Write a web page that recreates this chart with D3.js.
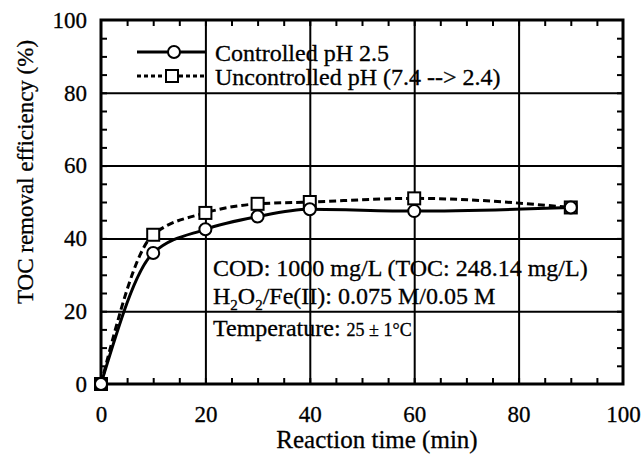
<!DOCTYPE html>
<html>
<head>
<meta charset="utf-8">
<script src="https://cdn.jsdelivr.net/npm/d3@7"></script>
<style>
    body { margin: 0; background: #fff; }
    svg text { font-family: "Liberation Serif", "DejaVu Serif", serif; fill: #000; stroke: #000; stroke-width: 0.3px; }
</style>
</head>
<body>
<svg width="642" height="459"></svg>
<script>
// reaction time (min) and TOC removal (%)
const times = [0, 10, 20, 30, 40, 60, 90];
const controlled = [0, 36, 42.5, 46, 48, 47.5, 48.5];
const uncontrolled = [0, 41, 47, 49.5, 50, 51, 48.5];
const xTicks = [0, 20, 40, 60, 80, 100];
const yTicks = [0, 20, 40, 60, 80, 100];
const seriesNames = ["Controlled pH 2.5", "Uncontrolled pH (7.4 --> 2.4)"];

const svg = d3.select('svg');
const margin = {top: 20, right: 19, bottom: 75, left: 101};
const width = 642 - margin.left - margin.right;
const height = 459 - margin.top - margin.bottom;

const chart = svg.append('g')
    .attr('transform', `translate(${margin.left}, ${margin.top})`);

const xScale = d3.scaleLinear().domain([0, 100]).range([0, width]);
const yScale = d3.scaleLinear().domain([0, 100]).range([height, 0]);

// grid
chart.append('g')
    .call(d3.axisBottom(xScale).tickValues(xTicks.slice(1, -1)).tickSize(height).tickFormat(''))
    .call(g => g.select('.domain').remove())
    .selectAll('line').attr('stroke', '#000').attr('stroke-width', 2);

chart.append('g')
    .call(d3.axisLeft(yScale).tickValues(yTicks.slice(1, -1)).tickSize(-width).tickFormat(''))
    .call(g => g.select('.domain').remove())
    .selectAll('line').attr('stroke', '#000').attr('stroke-width', 2);

// minor ticks, pointing inward on all four sides
const minor = d3.range(5, 100, 5);
chart.append('g')
    .attr('transform', `translate(0, ${height})`)
    .call(d3.axisTop(xScale).tickValues(minor).tickSize(6).tickFormat(''))
    .call(g => g.select('.domain').remove())
    .selectAll('line').attr('stroke-width', 2);
chart.append('g')
    .call(d3.axisBottom(xScale).tickValues(minor).tickSize(6).tickFormat(''))
    .call(g => g.select('.domain').remove())
    .selectAll('line').attr('stroke-width', 2);
chart.append('g')
    .call(d3.axisRight(yScale).tickValues(minor).tickSize(6).tickFormat(''))
    .call(g => g.select('.domain').remove())
    .selectAll('line').attr('stroke-width', 2);
chart.append('g')
    .attr('transform', `translate(${width}, 0)`)
    .call(d3.axisLeft(yScale).tickValues(minor).tickSize(6).tickFormat(''))
    .call(g => g.select('.domain').remove())
    .selectAll('line').attr('stroke-width', 2);

// tick labels
chart.append('g')
    .attr('transform', `translate(0, ${height})`)
    .call(d3.axisBottom(xScale).tickValues(xTicks).tickSize(0).tickPadding(22).tickFormat(d3.format('d')))
    .call(g => g.select('.domain').remove())
    .selectAll('text').style('font-size', '23px');

chart.append('g')
    .call(d3.axisLeft(yScale).tickValues(yTicks).tickSize(0).tickPadding(14).tickFormat(d3.format('d')))
    .call(g => g.select('.domain').remove())
    .selectAll('text').style('font-size', '23px');

// frame
chart.append('rect')
    .attr('width', width)
    .attr('height', height)
    .attr('fill', 'none')
    .attr('stroke', '#000')
    .attr('stroke-width', 3);

// curves
const line = d3.line()
    .x((d, i) => xScale(times[i]))
    .y(d => yScale(d))
    .curve(d3.curveMonotoneX);

chart.append('path')
    .datum(uncontrolled)
    .attr('d', line)
    .attr('fill', 'none')
    .attr('stroke', '#000')
    .attr('stroke-width', 3)
    .attr('stroke-dasharray', '7,4');

chart.append('path')
    .datum(controlled)
    .attr('d', line)
    .attr('fill', 'none')
    .attr('stroke', '#000')
    .attr('stroke-width', 3);

// markers
chart.selectAll('.sq')
    .data(uncontrolled)
    .enter()
    .append('rect')
    .attr('class', 'sq')
    .attr('x', (d, i) => xScale(times[i]) - 6)
    .attr('y', d => yScale(d) - 6)
    .attr('width', 12)
    .attr('height', 12)
    .attr('fill', '#fff')
    .attr('stroke', '#000')
    .attr('stroke-width', 2);

chart.selectAll('.ci')
    .data(controlled)
    .enter()
    .append('circle')
    .attr('class', 'ci')
    .attr('cx', (d, i) => xScale(times[i]))
    .attr('cy', d => yScale(d))
    .attr('r', 6)
    .attr('fill', '#fff')
    .attr('stroke', '#000')
    .attr('stroke-width', 2);

// legend
const legend = svg.append('g');
[0, 1].forEach(i => {
    const y = 52 + i * 24;
    legend.append('line')
        .attr('x1', 137).attr('x2', 205)
        .attr('y1', y).attr('y2', y)
        .attr('stroke', '#000')
        .attr('stroke-width', 3)
        .attr('stroke-dasharray', i === 1 ? '4,3' : null);
    if (i === 0) {
        legend.append('circle')
            .attr('cx', 174).attr('cy', y).attr('r', 6)
            .attr('fill', '#fff').attr('stroke', '#000').attr('stroke-width', 2);
    } else {
        legend.append('rect')
            .attr('x', 166).attr('y', y - 6).attr('width', 12).attr('height', 12)
            .attr('fill', '#fff').attr('stroke', '#000').attr('stroke-width', 2);
    }
    legend.append('text')
        .attr('x', 215)
        .attr('y', y + 9)
        .style('font-size', '24px')
        .text(seriesNames[i]);
});

// conditions
const notes = svg.append('g').style('font-size', '24px');
notes.append('text').attr('x', 213).attr('y', 276)
    .text('COD: 1000 mg/L (TOC: 248.14 mg/L)');
const h2o2 = notes.append('text').attr('x', 213).attr('y', 304);
h2o2.append('tspan').text('H');
h2o2.append('tspan').attr('dy', 6).style('font-size', '15px').text('2');
h2o2.append('tspan').attr('dy', -6).text('O');
h2o2.append('tspan').attr('dy', 6).style('font-size', '15px').text('2');
h2o2.append('tspan').attr('dy', -6).text('/Fe(II): 0.075 M/0.05 M');
const temp = notes.append('text').attr('x', 213).attr('y', 336);
temp.append('tspan').text('Temperature: ');
temp.append('tspan').style('font-size', '18px').text('25 ± 1°C');

// axis titles
svg.append('text')
    .attr('x', 377)
    .attr('y', 448)
    .attr('text-anchor', 'middle')
    .style('font-size', '25px')
    .text('Reaction time (min)');

svg.append('text')
    .attr('transform', `translate(33, 172) rotate(-90)`)
    .attr('text-anchor', 'middle')
    .style('font-size', '23px')
    .text('TOC removal efficiency (%)');
</script>
</body>
</html>
